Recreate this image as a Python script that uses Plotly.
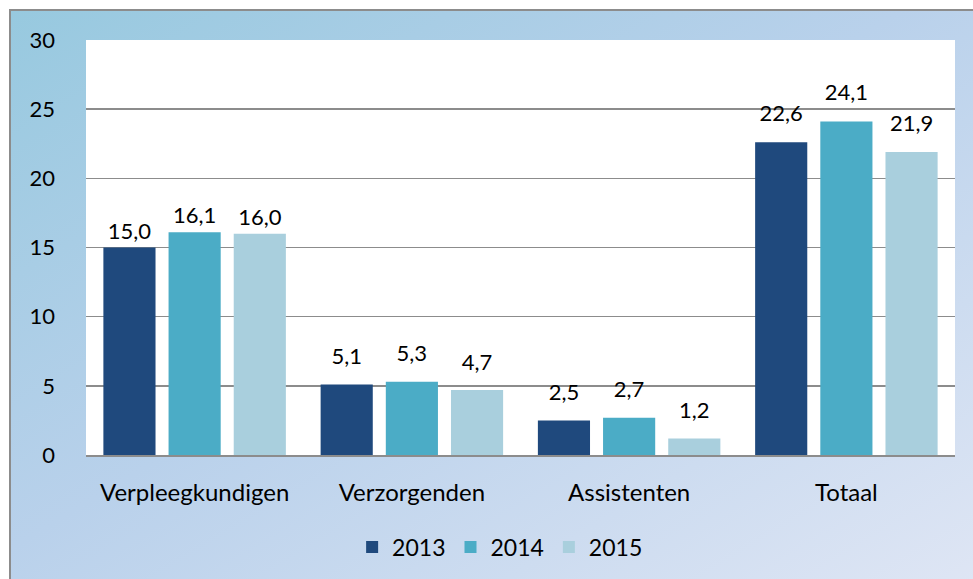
import base64
import plotly.graph_objects as go

categories = ["Verpleegkundigen", "Verzorgenden", "Assistenten", "Totaal"]
years = ["2013", "2014", "2015"]
values_2013 = [15.0, 5.1, 2.5, 22.6]
values_2014 = [16.1, 5.3, 2.7, 24.1]
values_2015 = [16.0, 4.7, 1.2, 21.9]
series = [values_2013, values_2014, values_2015]
colors = ["#1f497d", "#4bacc6", "#a9cfdd"]
y_ticks = [0, 5, 10, 15, 20, 25, 30]
# spacing (px marker size) between bar top and its value label, per category
label_pad = [4, 22, 22, 24]

W, H = 973, 579
L, R, T, B = 86, 18, 40, 124
PW, PH = W - L - R, H - T - B
FONT = "Lato"

svg = f"""<svg xmlns='http://www.w3.org/2000/svg' width='{W}' height='{H}' viewBox='0 0 {W} {H}'>
<defs><linearGradient id='g' x1='0' y1='0' x2='1' y2='1'>
<stop offset='0' stop-color='#97c9df'/>
<stop offset='0.45' stop-color='#b9d1eb'/>
<stop offset='1' stop-color='#e1e7f5'/>
</linearGradient></defs>
<rect x='0' y='0' width='{W}' height='{H}' fill='#ffffff'/>
<rect x='10' y='10' width='{W+20}' height='{H+20}' fill='url(#g)' stroke='#8c8c8c' stroke-width='2'/>
</svg>"""
src = "data:image/svg+xml;base64," + base64.b64encode(svg.encode()).decode()

fig = go.Figure()
for name, vals, col in zip(years, series, colors):
    fig.add_trace(go.Bar(
        x=categories, y=vals, name=name, offsetgroup=name,
        marker=dict(color=col, line=dict(width=0)),
    ))
for name, vals in zip(years, series):
    fig.add_trace(go.Scatter(
        x=categories, y=vals, name=name, offsetgroup=name, showlegend=False,
        mode="markers+text", texttemplate="%{y:.1f}", textposition="top center",
        marker=dict(size=label_pad, color="rgba(0,0,0,0)", line=dict(width=0)),
        textfont=dict(family=FONT, size=22, color="#000000"),
        cliponaxis=False, hoverinfo="skip",
    ))

fig.update_layout(
    width=W, height=H,
    margin=dict(l=L, r=R, t=T, b=B, autoexpand=False),
    paper_bgcolor="#ffffff", plot_bgcolor="rgba(0,0,0,0)",
    separators=",.",
    barmode="group", bargap=0.10, bargroupgap=0.2,
    scattermode="group", scattergap=0.10,
    font=dict(family=FONT, size=22, color="#000000"),
    showlegend=True,
    legend=dict(orientation="h", xref="container", yref="container", x=0.514, y=0.055,
                xanchor="center", yanchor="middle", font=dict(size=23),
                bgcolor="rgba(0,0,0,0)", itemwidth=30, traceorder="normal"),
    images=[dict(source=src, xref="paper", yref="paper", x=-L / PW, y=1 + T / PH,
                 sizex=W / PW, sizey=H / PH, sizing="stretch", xanchor="left",
                 yanchor="top", layer="below")],
    shapes=[dict(type="rect", xref="paper", yref="paper", x0=0, x1=1, y0=0, y1=1,
                 fillcolor="#ffffff", line=dict(width=0), layer="below")],
)
fig.update_yaxes(range=[0, 30], tickvals=y_ticks, showgrid=True, gridcolor="#8c8c8c",
                 gridwidth=1.5, zeroline=False, showline=False, ticks="",
                 ticklabelstandoff=30, tickfont=dict(size=22), fixedrange=True)
fig.update_xaxes(showline=True, linecolor="#8c8c8c", linewidth=2, ticks="",
                 ticklabelstandoff=15, tickfont=dict(size=24), fixedrange=True)

fig.write_html("out.html", config={"displayModeBar": False, "staticPlot": True},
               post_script="document.body.style.margin='0';document.body.style.padding='0';")
